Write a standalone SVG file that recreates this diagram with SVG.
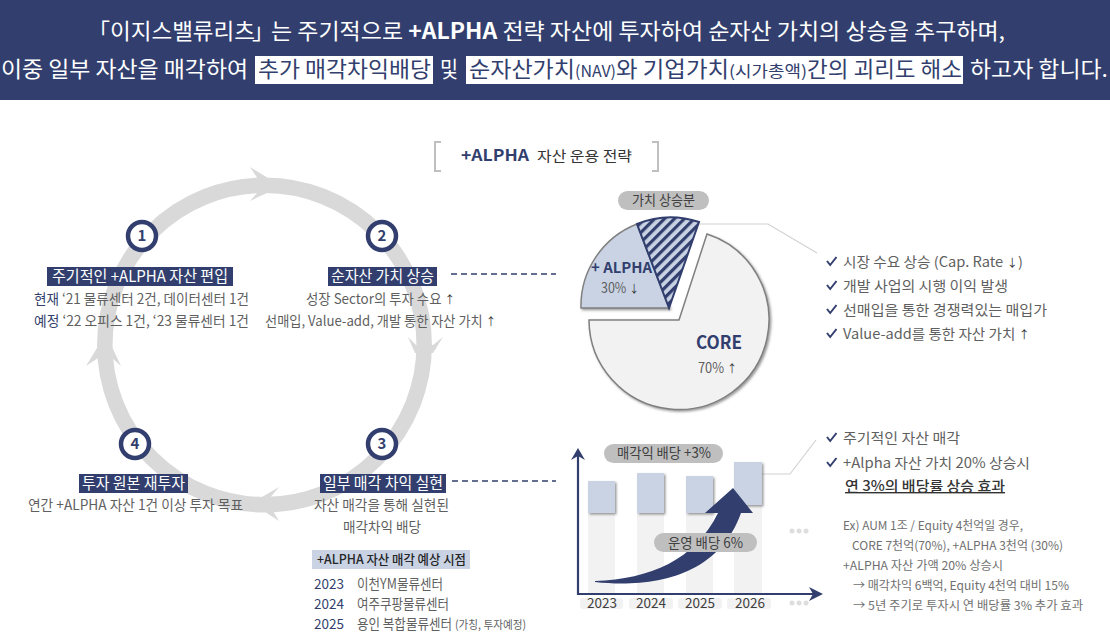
<svg xmlns="http://www.w3.org/2000/svg" xmlns:xlink="http://www.w3.org/1999/xlink" width="1110" height="638" viewBox="0 0 1110 638">
<style>
text{font-family:"Noto Sans CJK KR","Noto Sans",sans-serif;fill:#5f5f5f;font-size:14px}
.h{fill:#fff;font-size:22px;font-weight:400}
.hd{fill:#323f6e;font-size:22px;font-weight:400}
.hs{font-size:16px}
.lab{fill:#fff;font-size:15.5px}
.n{fill:#323f6e}
.ar{fill:#333;font-size:11px}
.num{fill:#323f6e;font-size:15px;font-weight:700;text-anchor:middle}
.ring{fill:#fff;stroke:#323f6e;stroke-width:4.5}
.navy{fill:#323f6e}
.arc{fill:#d9d9d9}
.pill{fill:#bfbfbf}
.pt{fill:#404040;font-size:14px}
.sm{font-size:12px;fill:#707070}
.chk{fill:none;stroke:#323f6e;stroke-width:2}
.lead{fill:none;stroke:#d2d2d2;stroke-width:1.2}
.dash{fill:none;stroke:#323f6e;stroke-width:1.3;stroke-dasharray:6 4}
.yr{fill:#f2f2f2}
.bar{fill:#c9d3e4;filter:url(#sh)}
.dot{fill:#dedede}
.axis{fill:none;stroke:#323f6e;stroke-width:2.2}
</style>
<defs>
<pattern id="hatch" width="7" height="7" patternUnits="userSpaceOnUse" patternTransform="rotate(-45)">
<rect width="7" height="7" fill="#c9d3e4"/><rect width="7" height="3.2" fill="#323f6e"/>
</pattern>
<filter id="sh" x="-20%" y="-20%" width="140%" height="140%"><feDropShadow dx="1.5" dy="1.5" stdDeviation="1" flood-color="#555" flood-opacity=".6"/></filter>
<path id="c" class="chk" d="M0,-3 L3.2,1 L9.5,-7"/>
</defs>
<rect width="1110" height="638" fill="#fff"/>

<g id="header">
<rect width="1110" height="100" fill="#323f6e"/>
<rect x="255" y="56" width="178" height="28" fill="#fff"/>
<rect x="466" y="56" width="497" height="28" fill="#fff"/>
<text class="h" x="88" y="39">「</text>
<text class="h" x="110" y="39" textLength="145" lengthAdjust="spacingAndGlyphs">이지스밸류리츠</text>
<text class="h" x="252" y="39">」</text>
<text class="h" x="271" y="39" textLength="734" lengthAdjust="spacingAndGlyphs">는 주기적으로 <tspan font-weight="700">+ALPHA</tspan> 전략 자산에 투자하여 순자산 가치의 상승을 추구하며,</text>
<text class="h" x="1" y="77" textLength="247" lengthAdjust="spacingAndGlyphs">이중 일부 자산을 매각하여</text>
<text class="hd" x="258" y="77" textLength="173" lengthAdjust="spacingAndGlyphs">추가 매각차익배당</text>
<text class="h" x="440" y="77" textLength="18" lengthAdjust="spacingAndGlyphs">및</text>
<text class="hd" x="469" y="77" textLength="106" lengthAdjust="spacingAndGlyphs">순자산가치</text>
<text class="hd hs" x="575" y="77" textLength="41" lengthAdjust="spacingAndGlyphs">(NAV)</text>
<text class="hd" x="616" y="77" textLength="113" lengthAdjust="spacingAndGlyphs">와 기업가치</text>
<text class="hd hs" x="729" y="77" textLength="78" lengthAdjust="spacingAndGlyphs">(시가총액)</text>
<text class="hd" x="807" y="77" textLength="155" lengthAdjust="spacingAndGlyphs">간의 괴리도 해소</text>
<text class="h" x="970" y="77" textLength="138" lengthAdjust="spacingAndGlyphs">하고자 합니다.</text>
</g>

<g id="connectors">
<circle cx="264.500" cy="345" r="159.700" fill="none" stroke="#d9d9d9" stroke-width="15.500"/>
<polygon class="arc" points="250,167 258,179 258,192 250,201 268,192.500 268,178"/>
<polygon class="arc" points="408,337 416,345 433,345 443,337 433,353 415,353"/>
<polygon class="arc" points="279,487 271,496.500 273,511 279,521 266,512.500 262,497"/>
<polygon class="arc" points="86,366 98,358 112,358 121,366 112.500,348 97,348"/>
<path class="dash" d="M451,274H556"/>
<path class="dash" d="M452,481H556"/>
<path class="lead" d="M699,224H768L817,253"/>
<path class="lead" d="M745,474H790L816,440"/>
</g>

<g id="step1">
<circle class="ring" cx="142" cy="236" r="14"/><text class="num" x="142" y="241">1</text>
<rect class="navy" x="47" y="267" width="186" height="19"/>
<text class="lab" x="52" y="282" textLength="176" lengthAdjust="spacingAndGlyphs">주기적인 +ALPHA 자산 편입</text>
<text x="34" y="304" textLength="215" lengthAdjust="spacingAndGlyphs"><tspan class="n">현재</tspan> ‘21 물류센터 2건, 데이터센터 1건</text>
<text x="34" y="326" textLength="215" lengthAdjust="spacingAndGlyphs"><tspan class="n">예정</tspan> ‘22 오피스 1건,  ‘23 물류센터 1건</text>
</g>
<g id="step2">
<circle class="ring" cx="382" cy="236" r="14"/><text class="num" x="382" y="241">2</text>
<rect class="navy" x="328" y="267" width="109" height="19"/>
<text class="lab" x="331" y="282" textLength="103" lengthAdjust="spacingAndGlyphs">순자산 가치 상승</text>
<text x="306" y="304" textLength="149" lengthAdjust="spacingAndGlyphs">성장 Sector의 투자 수요 <tspan class="ar">↑</tspan></text>
<text x="265" y="326" textLength="231" lengthAdjust="spacingAndGlyphs">선매입, Value-add, 개발 통한 자산 가치 <tspan class="ar">↑</tspan></text>
</g>
<g id="step3">
<circle class="ring" cx="382" cy="444" r="14"/><text class="num" x="382" y="449">3</text>
<rect class="navy" x="320" y="474" width="126" height="19"/>
<text class="lab" x="323" y="489" textLength="120" lengthAdjust="spacingAndGlyphs">일부 매각 차익 실현</text>
<text x="314" y="510" textLength="135" lengthAdjust="spacingAndGlyphs">자산 매각을 통해 실현된</text>
<text x="343" y="532" textLength="78" lengthAdjust="spacingAndGlyphs">매각차익 배당</text>
</g>
<g id="step4">
<circle class="ring" cx="135" cy="444" r="14"/><text class="num" x="135" y="449">4</text>
<rect class="navy" x="79" y="474" width="109" height="19"/>
<text class="lab" x="82" y="489" textLength="103" lengthAdjust="spacingAndGlyphs">투자 원본 재투자</text>
<text x="28" y="510" textLength="215" lengthAdjust="spacingAndGlyphs">연간 +ALPHA 자산 1건 이상 투자 목표</text>
</g>
<g id="sale-schedule">
<rect x="312" y="550" width="158" height="19" fill="#c9d3e4"/>
<text x="317" y="564" textLength="149" lengthAdjust="spacingAndGlyphs" style="fill:#262626;font-size:13px;font-weight:500">+ALPHA 자산 매각 예상 시점</text>
<text class="n" x="314" y="589" textLength="30" lengthAdjust="spacingAndGlyphs">2023</text>
<text x="357" y="589" textLength="86" lengthAdjust="spacingAndGlyphs">이천YM물류센터</text>
<text class="n" x="314" y="609" textLength="30" lengthAdjust="spacingAndGlyphs">2024</text>
<text x="357" y="609" textLength="92" lengthAdjust="spacingAndGlyphs">여주쿠팡물류센터</text>
<text class="n" x="314" y="629" textLength="30" lengthAdjust="spacingAndGlyphs">2025</text>
<text x="357" y="629" textLength="95" lengthAdjust="spacingAndGlyphs">용인 복합물류센터</text>
<text x="455" y="629" textLength="71" lengthAdjust="spacingAndGlyphs" style="font-size:11.500px">(가칭, 투자예정)</text>
</g>

<g id="title">
<path d="M441,142H435V171H441M652,142H658V171H652" fill="none" stroke="#bfbfbf" stroke-width="2"/>
<text class="n" x="461" y="161" textLength="68" lengthAdjust="spacingAndGlyphs" style="font-size:16px;font-weight:700">+ALPHA</text>
<text x="537" y="161" textLength="95" lengthAdjust="spacingAndGlyphs" style="fill:#333">자산 운용 전략</text>
</g>

<g id="pie">
<path d="M679,320H589A90,90 0 1 0 707,234Z" fill="#f2f2f2" stroke="#808080" stroke-width="1.5" filter="url(#sh)"/>
<path d="M669,308H581A88,88 0 0 1 637,224Z" fill="#c9d3e4" stroke="#808080" stroke-width="1.5" filter="url(#sh)"/>
<path d="M669,308L637,224A90,90 0 0 1 699,222Z" fill="url(#hatch)" stroke="#323f6e" stroke-width="2"/>
<rect class="pill" x="618" y="191" width="91" height="19" rx="9.500"/>
<text class="pt" x="632" y="205" textLength="63" lengthAdjust="spacingAndGlyphs">가치 상승분</text>
<text class="n" x="591" y="273" textLength="61" lengthAdjust="spacingAndGlyphs" style="font-size:15px;font-weight:700">+ ALPHA</text>
<text x="601" y="293" textLength="38" lengthAdjust="spacingAndGlyphs">30% <tspan class="ar">↓</tspan></text>
<text class="n" x="696" y="349" textLength="46" lengthAdjust="spacingAndGlyphs" style="font-size:18px;font-weight:700">CORE</text>
<text x="698" y="373" textLength="39" lengthAdjust="spacingAndGlyphs">70% <tspan class="ar">↑</tspan></text>
</g>

<g id="value-drivers">
<use xlink:href="#c" href="#c" x="827" y="264"/>
<use xlink:href="#c" href="#c" x="827" y="288"/>
<use xlink:href="#c" href="#c" x="827" y="312"/>
<use xlink:href="#c" href="#c" x="827" y="336"/>
<text x="843" y="267" textLength="180" lengthAdjust="spacingAndGlyphs">시장 수요 상승 (Cap. Rate <tspan class="ar">↓</tspan>)</text>
<text x="843" y="291" textLength="165" lengthAdjust="spacingAndGlyphs">개발 사업의 시행 이익 발생</text>
<text x="843" y="315" textLength="204" lengthAdjust="spacingAndGlyphs">선매입을 통한 경쟁력있는 매입가</text>
<text x="843" y="339" textLength="187" lengthAdjust="spacingAndGlyphs">Value-add를 통한 자산 가치 <tspan class="ar">↑</tspan></text>
</g>

<g id="bar-chart">
<rect class="yr" x="588" y="513" width="27" height="80"/>
<rect class="yr" x="637" y="513" width="27" height="80"/>
<rect class="yr" x="686" y="513" width="27" height="80"/>
<rect class="yr" x="734" y="505" width="28" height="88"/>
<rect class="bar" x="588" y="481" width="27" height="32"/>
<rect class="bar" x="637" y="473" width="27" height="40"/>
<rect class="bar" x="686" y="476" width="27" height="37"/>
<rect class="bar" x="734" y="462" width="28" height="43"/>
<path class="axis" d="M578,456V594H816"/>
<polygon class="navy" points="578,448 585,460 578,456 571,460"/>
<polygon class="navy" points="823,594 809,587 813,594 809,601"/>
<path class="navy" d="M595,581C650,579 695,560 718,513H705L733,488L753,513H741C718,578 650,588 595,582Z"/>
<rect class="pill" x="604" y="444" width="119" height="19" rx="9.500"/>
<text class="pt" x="617" y="458" textLength="94" lengthAdjust="spacingAndGlyphs">매각익 배당 +3%</text>
<rect class="pill" x="654" y="533" width="103" height="19" rx="9.500"/>
<text class="pt" x="668" y="548" textLength="75" lengthAdjust="spacingAndGlyphs">운영 배당 6%</text>
<rect class="yr" x="580" y="598" width="43" height="11" rx="3"/>
<rect class="yr" x="629" y="598" width="44" height="11" rx="3"/>
<rect class="yr" x="678" y="598" width="44" height="11" rx="3"/>
<rect class="yr" x="727" y="598" width="44" height="11" rx="3"/>
<text class="pt" x="587" y="608" textLength="30" lengthAdjust="spacingAndGlyphs">2023</text>
<text class="pt" x="636" y="608" textLength="30" lengthAdjust="spacingAndGlyphs">2024</text>
<text class="pt" x="685" y="608" textLength="30" lengthAdjust="spacingAndGlyphs">2025</text>
<text class="pt" x="735" y="608" textLength="30" lengthAdjust="spacingAndGlyphs">2026</text>
<circle class="dot" cx="792" cy="531" r="2.500"/><circle class="dot" cx="799" cy="531" r="2.500"/><circle class="dot" cx="806" cy="531" r="2.500"/>
<circle class="dot" cx="792" cy="603" r="2.500"/><circle class="dot" cx="799" cy="603" r="2.500"/><circle class="dot" cx="806" cy="603" r="2.500"/>
</g>

<g id="dividend-notes">
<use xlink:href="#c" href="#c" x="827" y="440"/>
<use xlink:href="#c" href="#c" x="827" y="465"/>
<text x="843" y="443" textLength="117" lengthAdjust="spacingAndGlyphs">주기적인 자산 매각</text>
<text x="843" y="468" textLength="187" lengthAdjust="spacingAndGlyphs">+Alpha 자산 가치 20% 상승시</text>
<text x="845" y="491" textLength="160" lengthAdjust="spacingAndGlyphs" style="fill:#333;text-decoration:underline;font-weight:500">연 3%의 배당률 상승 효과</text>
<text class="sm" x="843" y="530" textLength="180" lengthAdjust="spacingAndGlyphs">Ex) AUM 1조 / Equity 4천억일 경우,</text>
<text class="sm" x="852" y="550" textLength="211" lengthAdjust="spacingAndGlyphs">CORE 7천억(70%), +ALPHA 3천억 (30%)</text>
<text class="sm" x="843" y="570" textLength="160" lengthAdjust="spacingAndGlyphs">+ALPHA 자산 가액 20% 상승시</text>
<text class="sm" x="853" y="590" textLength="216" lengthAdjust="spacingAndGlyphs">→ 매각차익 6백억, Equity 4천억 대비 15%</text>
<text class="sm" x="853" y="610" textLength="230" lengthAdjust="spacingAndGlyphs">→ 5년 주기로 투자시 연 배당률 3% 추가 효과</text>
</g>
</svg>
